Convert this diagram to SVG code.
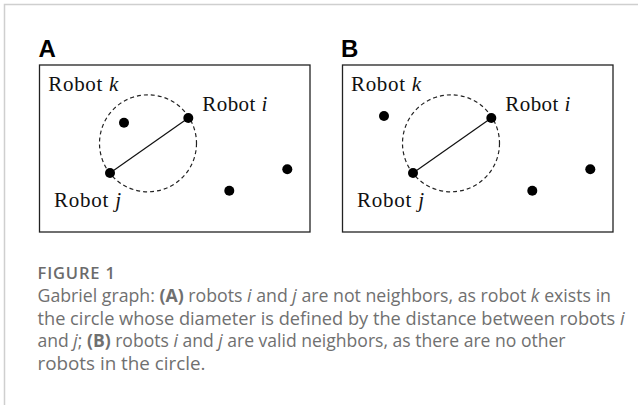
<svg xmlns="http://www.w3.org/2000/svg" width="638" height="405" viewBox="0 0 638 405">
<style>
.frame{fill:none;stroke:#cfcfcf;stroke-width:1.5}
.box{fill:#fff;stroke:#222;stroke-width:1.3}
.circ{fill:none;stroke:#222;stroke-width:1.2;stroke-dasharray:4 3}
.edge{stroke:#111;stroke-width:1.2}
.dot{fill:#000}
.lbl{font-family:"Liberation Serif","Times New Roman",serif;font-size:21px;fill:#111}
.panel{font-family:"Liberation Sans",Arial,sans-serif;font-weight:bold;font-size:24px;fill:#000}
.cap{font-family:"Open Sans","Noto Sans",sans-serif;font-size:17.5px;fill:#707070}
.capt{font-family:"Open Sans","Noto Sans",sans-serif;font-size:16.5px;font-weight:600;fill:#6b6b6b}
</style>
<rect width="638" height="405" fill="#fff"/>
<path class="frame" d="M4.5,405 V4.5 H638"/>

<g id="panelA">
<text class="panel" x="38.5" y="56.7">A</text>
<rect class="box" x="39.5" y="65" width="270.5" height="167"/>
</g>
<g id="panelB">
<text class="panel" x="341" y="56.7">B</text>
<rect class="box" x="342.5" y="65" width="270.5" height="167"/>
</g>

<g id="connectors">
<circle class="circ" cx="148" cy="143.3" r="48.5"/>
<line class="edge" x1="188.3" y1="118" x2="110" y2="173"/>
<circle class="circ" cx="451" cy="143.3" r="48.5"/>
<line class="edge" x1="491.3" y1="118" x2="413" y2="173"/>
</g>

<g id="A-robot-i"><circle class="dot" cx="188.3" cy="118" r="5"/><text class="lbl" x="202.3" y="110.5" textLength="65">Robot <tspan font-style="italic">i</tspan></text></g>
<g id="A-robot-j"><circle class="dot" cx="110" cy="173" r="5"/><text class="lbl" x="54" y="206.5" textLength="67">Robot <tspan font-style="italic">j</tspan></text></g>
<g id="A-robot-k"><circle class="dot" cx="124" cy="122.7" r="5"/><text class="lbl" x="48.3" y="91" textLength="70">Robot <tspan font-style="italic">k</tspan></text></g>
<g id="A-robot-4"><circle class="dot" cx="287.3" cy="169.3" r="5"/></g>
<g id="A-robot-5"><circle class="dot" cx="229.3" cy="190.7" r="5"/></g>

<g id="B-robot-i"><circle class="dot" cx="491.3" cy="118" r="5"/><text class="lbl" x="505.3" y="110.5" textLength="65">Robot <tspan font-style="italic">i</tspan></text></g>
<g id="B-robot-j"><circle class="dot" cx="413" cy="173" r="5"/><text class="lbl" x="357" y="206.5" textLength="67">Robot <tspan font-style="italic">j</tspan></text></g>
<g id="B-robot-k"><circle class="dot" cx="384" cy="116" r="5"/><text class="lbl" x="351" y="91" textLength="70">Robot <tspan font-style="italic">k</tspan></text></g>
<g id="B-robot-4"><circle class="dot" cx="590.3" cy="169.3" r="5"/></g>
<g id="B-robot-5"><circle class="dot" cx="532.3" cy="190.7" r="5"/></g>

<g id="caption">
<text class="capt" x="37.5" y="279" textLength="77.5">FIGURE 1</text>
<text class="cap" x="37.5" y="301.8" textLength="573.5" lengthAdjust="spacingAndGlyphs">Gabriel graph: <tspan font-weight="bold">(A)</tspan> robots <tspan font-style="italic">i</tspan> and <tspan font-style="italic">j</tspan> are not neighbors, as robot <tspan font-style="italic">k</tspan> exists in</text>
<text class="cap" x="37.5" y="324.6" textLength="587" lengthAdjust="spacingAndGlyphs">the circle whose diameter is defined by the distance between robots <tspan font-style="italic">i</tspan></text>
<text class="cap" x="37.5" y="347.4" textLength="528" lengthAdjust="spacingAndGlyphs">and <tspan font-style="italic">j</tspan>; <tspan font-weight="bold">(B)</tspan> robots <tspan font-style="italic">i</tspan> and <tspan font-style="italic">j</tspan> are valid neighbors, as there are no other</text>
<text class="cap" x="37.5" y="370.2" textLength="168" lengthAdjust="spacingAndGlyphs">robots in the circle.</text>
</g>
</svg>
